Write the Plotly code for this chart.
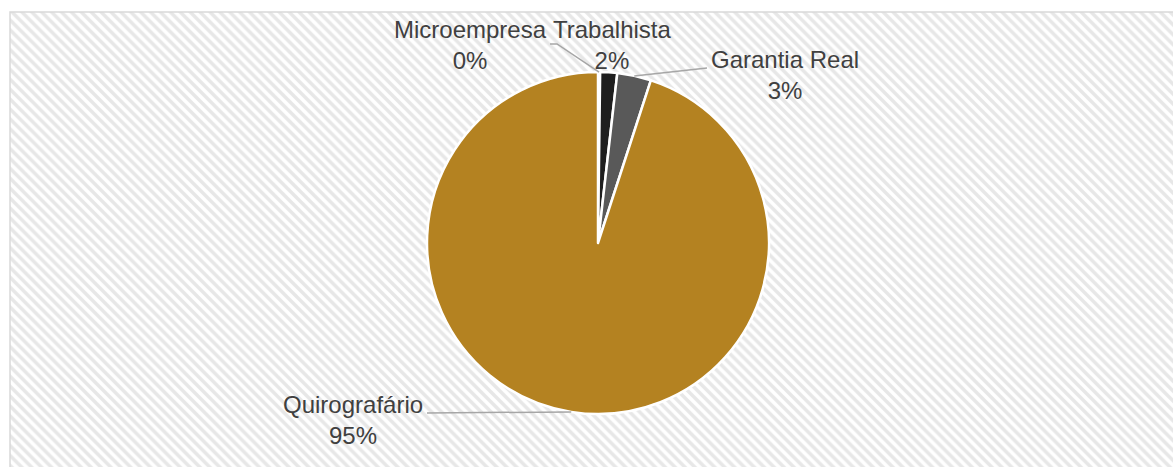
import plotly.graph_objects as go
import math

# ---- data ----
categories = ["Microempresa", "Trabalhista", "Garantia Real", "Quirografário"]
values = [0.2, 1.6, 3.2, 95.0]
colors = ["#ffffff", "#1e1e1e", "#595959", "#b48221"]

W, H = 1173, 467
CX, CY, R = 598, 243, 171  # pie geometry in pixels

def px(x):
    return x / W

def py(y):
    return 1 - y / H

fig = go.Figure()

# hatched background (pixel axes)
fig.add_trace(go.Scatter(
    x=[10, 1200, 1200, 10, 10], y=[12, 12, 500, 500, 12],
    mode="lines", fill="toself", line=dict(width=0),
    fillcolor="white",
    fillpattern=dict(shape="\\", fgcolor="#d0d0d0", bgcolor="white", size=7, solidity=0.5),
    hoverinfo="skip", showlegend=False,
))

fig.add_trace(go.Pie(
    labels=categories, values=values, sort=False, direction="clockwise", rotation=0,
    marker=dict(colors=colors, line=dict(color="white", width=2.5)),
    textinfo="none", hoverinfo="skip", showlegend=False,
    domain=dict(x=[px(CX - R), px(CX + R)], y=[py(CY + R), py(CY - R)]),
))

# mid-angle points on the circle for leader lines
total = sum(values)
cum = 0
mids = []
for v in values:
    a = (cum + v / 2) / total * 2 * math.pi
    mids.append((CX + R * math.sin(a), CY - R * math.cos(a)))
    cum += v

pct = [f"{round(v / total * 100):.0f}%" for v in values]

label_pos = [(470, 45), (612, 45), (785, 75), (353, 420)]
leader_start = [(550, 44), None, (707, 68), (427, 413)]

shapes = [dict(type="rect", xref="paper", yref="paper",
               x0=px(10), y0=py(12), x1=1.02, y1=-0.05,
               line=dict(color="#d9d9d9", width=1.5), fillcolor="rgba(0,0,0,0)")]

for i, s in enumerate(leader_start):
    if s is None:
        continue
    ex, ey = mids[i]
    if i == 0:
        path = f"M {px(s[0])},{py(s[1])} L {px(s[0]+7)},{py(s[1])} L {px(ex)},{py(ey)}"
    else:
        path = f"M {px(s[0])},{py(s[1])} L {px(ex)},{py(ey)}"
    shapes.append(dict(type="path", xref="paper", yref="paper", path=path,
                       line=dict(color="#a6a6a6", width=1.5)))

annotations = []
for i, (lx, ly) in enumerate(label_pos):
    annotations.append(dict(
        x=px(lx), y=py(ly), xref="paper", yref="paper",
        text=f"{categories[i]}<br>{pct[i]}", showarrow=False,
        xanchor="center", yanchor="middle", align="center",
        font=dict(family="Liberation Sans, Arial", size=24, color="#404040"),
    ))

fig.update_layout(
    width=W, height=H,
    margin=dict(l=0, r=0, t=0, b=0),
    paper_bgcolor="white", plot_bgcolor="white",
    xaxis=dict(range=[0, W], visible=False, fixedrange=True),
    yaxis=dict(range=[H, 0], visible=False, fixedrange=True),
    shapes=shapes, annotations=annotations,
)

fig.write_html("out.html", config={"displayModeBar": False},
               post_script="document.body.style.margin='0';")
